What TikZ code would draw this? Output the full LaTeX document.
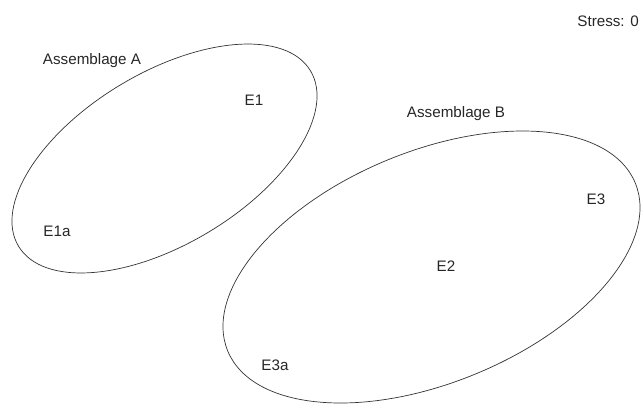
\documentclass[tikz,border=0pt]{standalone}
\usepackage{fontspec}
\setmainfont{Liberation Sans}
\begin{document}
\begin{tikzpicture}[x=1pt,y=-1pt,
  lbl/.style={font=\fontsize{15.2}{17}\selectfont, text=black!85, inner sep=0pt, anchor=base},
  ring/.style={draw=black!80, line width=0.7pt}]
\useasboundingbox (0,0) rectangle (641,405);
\coordinate (ca) at (164.5,158.5);
\coordinate (cb) at (431.5,267);
\draw[ring] (ca) ellipse [x radius=170.3pt, y radius=85.8pt, rotate=31];
\draw[ring] (cb) ellipse [x radius=220.4pt, y radius=115.7pt, rotate=22.4];
\node[lbl] (asa) at (92,64.3) {Assemblage A};
\node[lbl] (e1) at (254,105) {E1};
\node[lbl] (e1a) at (57,236.7) {E1a};
\node[lbl] (asb) at (456,117.3) {Assemblage B};
\node[lbl] (e3) at (596,204.3) {E3};
\node[lbl] (e2) at (446,271) {E2};
\node[lbl] (e3a) at (275,370.7) {E3a};
\node[lbl, anchor=base east] (st) at (639,26) {Stress: 0};
\end{tikzpicture}
\end{document}
